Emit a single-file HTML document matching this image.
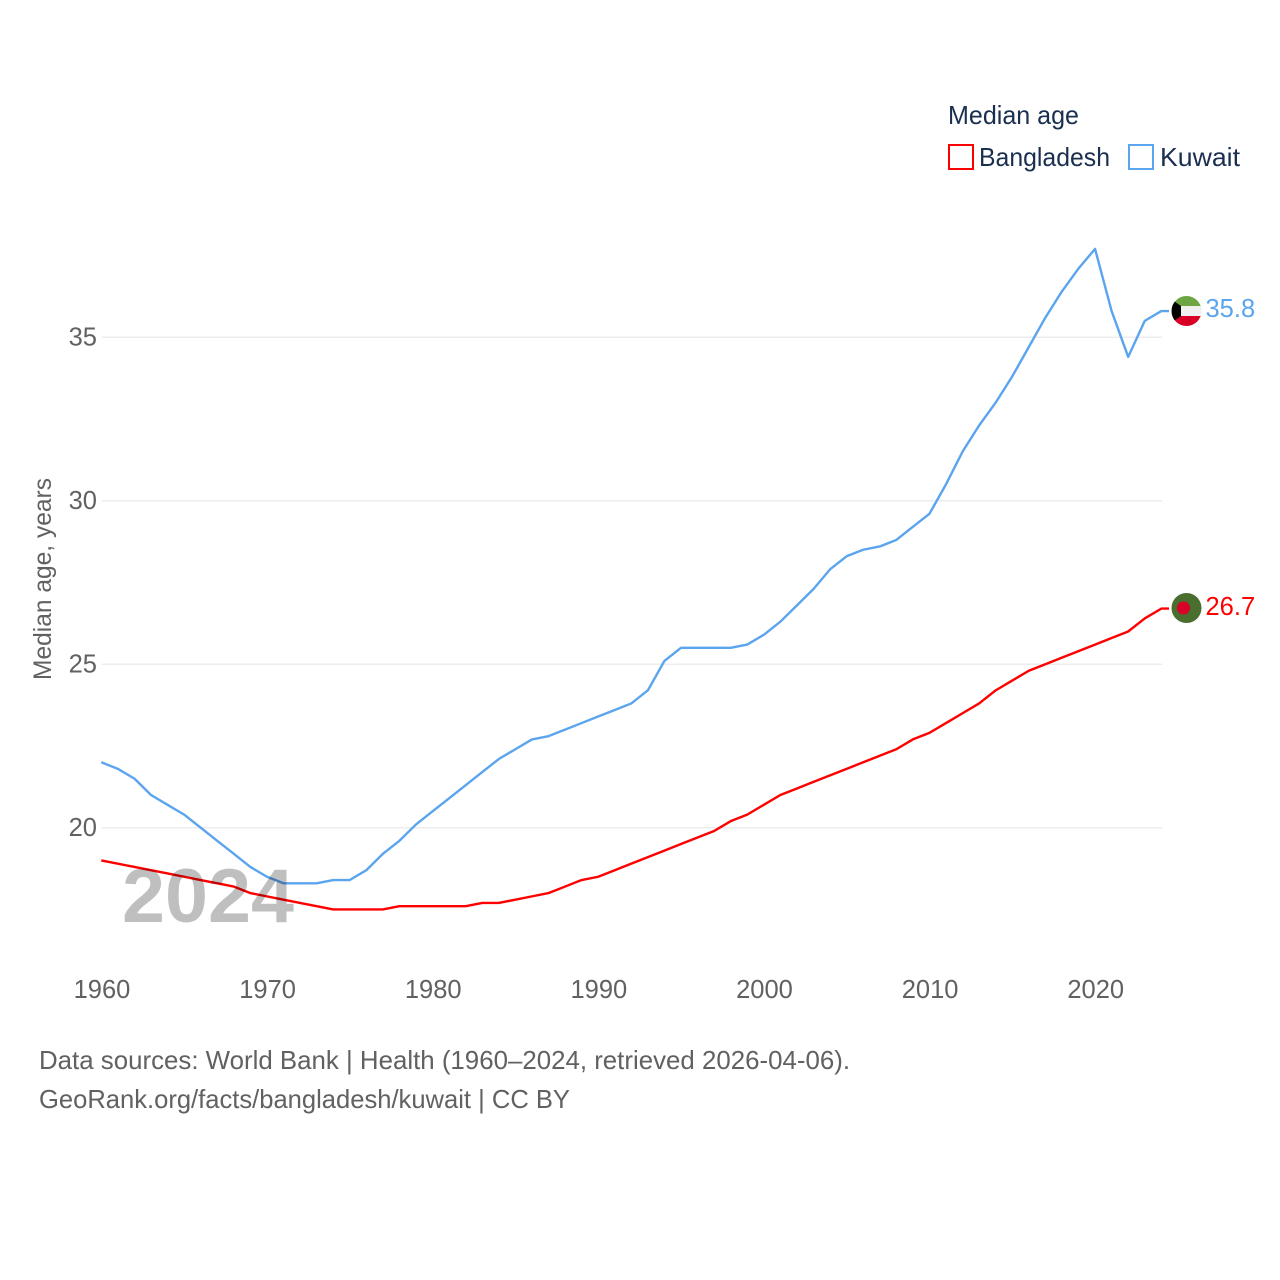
<!DOCTYPE html>
<html lang="en">
<head>
<meta charset="utf-8">
<title>Median age: Bangladesh and Kuwait</title>
<style>
html,body{margin:0;padding:0;background:#fff;}
svg{display:block;font-family:"Liberation Sans",sans-serif;}
</style>
</head>
<body>
<svg id="chart" xmlns="http://www.w3.org/2000/svg" width="1280" height="1280" viewBox="0 0 1280 1280">
  <g id="grid"></g>
  <g id="y-ticks"></g>
  <g id="x-ticks"></g>
  <text transform="translate(51,680) rotate(-90)" font-size="25" fill="#616161" textLength="202" lengthAdjust="spacingAndGlyphs">Median age, years</text>
  <g id="series"></g>
  <text x="122" y="922" font-size="76" font-weight="bold" fill="rgba(0,0,0,0.25)" textLength="172" lengthAdjust="spacingAndGlyphs">2024</text>

  <g>
    <text x="948" y="124" font-size="26" fill="#1a2f4f" textLength="131" lengthAdjust="spacingAndGlyphs">Median age</text>
    <g>
      <rect x="949" y="145" width="24" height="24" fill="#fff" stroke="#ff0000" stroke-width="2"></rect>
      <text x="979" y="166" font-size="26" fill="#1a2f4f" textLength="131" lengthAdjust="spacingAndGlyphs">Bangladesh</text>
    </g>
    <g>
      <rect x="1129" y="145" width="24" height="24" fill="#fff" stroke="#5ba4ee" stroke-width="2"></rect>
      <text x="1160" y="166" font-size="26" fill="#1a2f4f" textLength="80" lengthAdjust="spacingAndGlyphs">Kuwait</text>
    </g>
  </g>

  <defs>
    <clipPath id="flag-clip-kw"><circle cx="1186.5" cy="311" r="15"></circle></clipPath>
  </defs>
  <g id="flag-kuwait" clip-path="url(#flag-clip-kw)">
    <rect x="1171" y="296" width="31" height="10.5" fill="#6da544"></rect>
    <rect x="1171" y="306" width="31" height="10" fill="#f0f0f0"></rect>
    <rect x="1171" y="316" width="31" height="10" fill="#d80027"></rect>
    <polygon points="1171,299 1181,306 1181,316 1171,323" fill="#000"></polygon>
  </g>
  <g id="flag-bangladesh">
    <circle cx="1186.5" cy="608" r="15" fill="#496e2d"></circle>
    <circle cx="1183.5" cy="608" r="6.5" fill="#d80027"></circle>
  </g>

  <g id="end-labels"></g>

  <g>
    <text x="39" y="1069" font-size="26" fill="#616161" textLength="811" lengthAdjust="spacingAndGlyphs">Data sources: World Bank | Health (1960–2024, retrieved 2026-04-06).</text>
    <text x="39" y="1108" font-size="26" fill="#616161" textLength="531" lengthAdjust="spacingAndGlyphs">GeoRank.org/facts/bangladesh/kuwait | CC BY</text>
  </g>
</svg>

<script>
const years = [1960,1961,1962,1963,1964,1965,1966,1967,1968,1969,1970,1971,1972,1973,1974,1975,1976,1977,1978,1979,1980,1981,1982,1983,1984,1985,1986,1987,1988,1989,1990,1991,1992,1993,1994,1995,1996,1997,1998,1999,2000,2001,2002,2003,2004,2005,2006,2007,2008,2009,2010,2011,2012,2013,2014,2015,2016,2017,2018,2019,2020,2021,2022,2023,2024];
const bangladesh = [19.0,18.9,18.8,18.7,18.6,18.5,18.4,18.3,18.2,18.0,17.9,17.8,17.7,17.6,17.5,17.5,17.5,17.5,17.6,17.6,17.6,17.6,17.6,17.7,17.7,17.8,17.9,18.0,18.2,18.4,18.5,18.7,18.9,19.1,19.3,19.5,19.7,19.9,20.2,20.4,20.7,21.0,21.2,21.4,21.6,21.8,22.0,22.2,22.4,22.7,22.9,23.2,23.5,23.8,24.2,24.5,24.8,25.0,25.2,25.4,25.6,25.8,26.0,26.4,26.7];
const kuwait = [22.0,21.8,21.5,21.0,20.7,20.4,20.0,19.6,19.2,18.8,18.5,18.3,18.3,18.3,18.4,18.4,18.7,19.2,19.6,20.1,20.5,20.9,21.3,21.7,22.1,22.4,22.7,22.8,23.0,23.2,23.4,23.6,23.8,24.2,25.1,25.5,25.5,25.5,25.5,25.6,25.9,26.3,26.8,27.3,27.9,28.3,28.5,28.6,28.8,29.2,29.6,30.5,31.5,32.3,33.0,33.8,34.7,35.6,36.4,37.1,37.7,35.8,34.4,35.5,35.8];
const yTicks = [20,25,30,35];
const xTicks = [1960,1970,1980,1990,2000,2010,2020];

const SVG_NS = 'http://www.w3.org/2000/svg';
const plotLeft = 102;
const plotRight = 1162;
const stubEnd = 1169;
function xScale(year) { return 101.3 + (year - 1960) * 16.5625; }
function yScale(value) { return 827.7 - (value - 20) * 32.7; }
function make(tag, attrs, parent) {
  const el = document.createElementNS(SVG_NS, tag);
  Object.keys(attrs).forEach(function (k) { el.setAttribute(k, attrs[k]); });
  parent.appendChild(el);
  return el;
}

const gridGroup = document.getElementById('grid');
const yGroup = document.getElementById('y-ticks');
yTicks.forEach(function (tick) {
  const line = make('line', {x1: plotLeft, x2: plotRight, y1: yScale(tick), y2: yScale(tick), stroke: '#ececec', 'stroke-width': 1.5}, gridGroup);
  
  
  const label = make('text', {x: 97, y: yScale(tick) + 8.5, 'text-anchor': 'end', 'font-size': 25.5, fill: '#616161'}, yGroup);
  label.textContent = String(tick);
  
  
});

const xGroup = document.getElementById('x-ticks');
xTicks.forEach(function (tick) {
  const label = make('text', {x: xScale(tick) + 0.7, y: 998, 'text-anchor': 'middle', 'font-size': 25.5, fill: '#616161'}, xGroup);
  label.textContent = String(tick);
  
  
});

function pathFor(values) {
  const d = values.map(function (v, i) {
    return (i === 0 ? 'M' : 'L') + xScale(years[i]).toFixed(2) + ',' + yScale(v).toFixed(2);
  }).join(' ');
  return d + ' L' + stubEnd + ',' + yScale(values[values.length - 1]).toFixed(2);
}

const seriesGroup = document.getElementById('series');
const kuwaitLine = make('path', {d: pathFor(kuwait), fill: 'none', stroke: '#5ba4ee', 'stroke-width': 2.4, 'stroke-linejoin': 'round'}, seriesGroup);


const bangladeshLine = make('path', {d: pathFor(bangladesh), fill: 'none', stroke: '#ff0000', 'stroke-width': 2.4, 'stroke-linejoin': 'round'}, seriesGroup);



const endGroup = document.getElementById('end-labels');
const kuwaitEnd = make('text', {x: 1205.5, y: yScale(kuwait[kuwait.length - 1]) + 6, 'font-size': 25.5, fill: '#5ba4ee'}, endGroup);
kuwaitEnd.textContent = kuwait[kuwait.length - 1].toFixed(1);


const bangladeshEnd = make('text', {x: 1205.5, y: yScale(bangladesh[bangladesh.length - 1]) + 6.5, 'font-size': 25.5, fill: '#ff0000'}, endGroup);
bangladeshEnd.textContent = bangladesh[bangladesh.length - 1].toFixed(1);


</script>
</body>
</html>
